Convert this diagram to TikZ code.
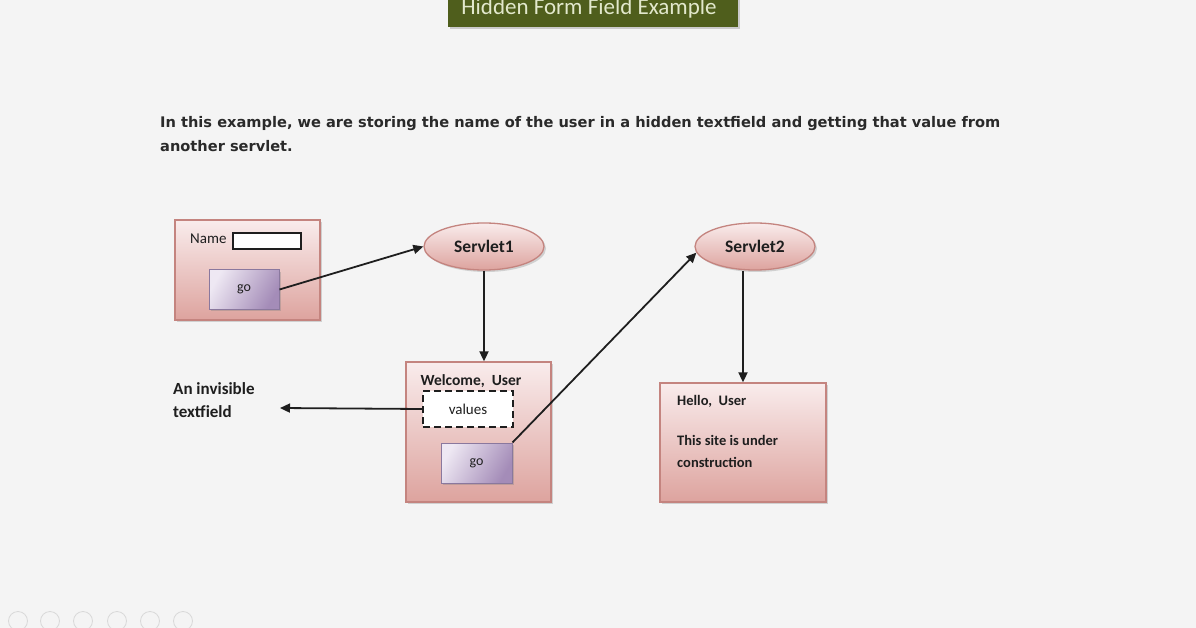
\documentclass[tikz,border=0pt]{standalone}
\usepackage{fontspec}
\setmainfont{Carlito}
\newfontfamily\parafont{DejaVu Sans}
\usetikzlibrary{arrows.meta,shapes.geometric,shadows,calc}
\definecolor{bgc}{HTML}{F4F4F4}
\definecolor{olive}{HTML}{4F5E1C}
\definecolor{titletext}{HTML}{E2E8CC}
\definecolor{pinktop}{HTML}{F9ECEC}
\definecolor{pinkbot}{HTML}{DDA39E}
\definecolor{pinkline}{HTML}{C4847F}
\definecolor{purtop}{HTML}{EEE8F3}
\definecolor{purbot}{HTML}{A48CB8}
\definecolor{purline}{HTML}{8A789E}
\definecolor{ink}{HTML}{1E1E1E}
\definecolor{paraink}{HTML}{2A2A2A}
\tikzset{
  pagebox/.style={draw=pinkline, line width=1.3pt, top color=pinktop, bottom color=pinkbot, shading angle=0,
    drop shadow={opacity=0.3, shadow xshift=2pt, shadow yshift=-2pt}},
  servlet/.style={ellipse, draw=pinkline, line width=1.3pt, top color=pinktop, bottom color=pinkbot,
    minimum width=120pt, minimum height=47pt, inner sep=0pt, font=\fontsize{17.5}{20}\selectfont\bfseries, text=ink,
    drop shadow={opacity=0.3, shadow xshift=2pt, shadow yshift=-2pt}},
  gobtn/.style={draw=purline, line width=1pt, shading=axis, left color=purtop, right color=purbot, shading angle=60,
    inner sep=0pt, font=\fontsize{14}{16}\selectfont, text=ink,
    drop shadow={opacity=0.35, shadow xshift=2pt, shadow yshift=-2pt}},
  conn/.style={draw=ink, line width=1.8pt, -{Triangle[length=10pt,width=9pt]}},
  lbl/.style={inner sep=0pt, text=ink, font=\fontsize{15.5}{18}\selectfont\bfseries},
  ctrl/.style={circle, draw=black!15, line width=0.8pt, minimum size=19pt, inner sep=0pt}
}
\begin{document}
\begin{tikzpicture}[x=1pt,y=-1pt]
\useasboundingbox (0,0) rectangle (1196,628);
\fill[bgc] (0,0) rectangle (1196,628);
% title bar
\node[fill=olive, minimum width=290pt, minimum height=30pt, inner sep=0pt,
  drop shadow={opacity=0.35, shadow xshift=2pt, shadow yshift=-2pt}] (title) at (593,12) {};
\node[text=titletext, font=\fontsize{23}{25}\selectfont, anchor=base] (titletxt) at (589,15) {Hidden Form Field Example};
% paragraph
\node[anchor=base west, inner sep=0pt, text=paraink, font=\parafont\bfseries\fontsize{14.6}{17}\selectfont] (p1) at (160,128)
  {In this example, we are storing the name of the user in a hidden textfield and getting that value from};
\node[anchor=base west, inner sep=0pt, text=paraink, font=\parafont\bfseries\fontsize{14.6}{17}\selectfont] (p2) at (160,152)
  {another servlet.};
% box 1
\node[pagebox, minimum width=145pt, minimum height=100pt] (b1) at (247.5,270) {};
\node[anchor=base west, inner sep=0pt, text=ink, font=\fontsize{15}{17}\selectfont] (name) at (190,244) {Name};
\node[draw=ink, fill=white, line width=1.3pt, minimum width=68pt, minimum height=16pt, inner sep=0pt] (tf) at (267,241) {};
\node[gobtn, minimum width=70pt, minimum height=39pt] (go1) at (244,289.5) {go};
% servlet 1
\node[servlet] (s1) at (484,246.5) {Servlet1};
% box 2
\node[pagebox, minimum width=145pt, minimum height=140pt] (b2) at (478.5,432) {};
\node[lbl, anchor=base] (wel) at (471,385) {Welcome,\ \ User};
\node[draw=ink, fill=white, dashed, dash pattern=on 7pt off 4pt, line width=2pt, minimum width=90pt, minimum height=36pt,
  inner sep=0pt, text=ink, font=\fontsize{15}{17}\selectfont] (val) at (468,409) {values};
\node[gobtn, minimum width=71pt, minimum height=40pt] (go2) at (476.5,463) {go};
% invisible label
\node[lbl, anchor=north west, align=left, font=\fontsize{17}{23}\selectfont\bfseries] (inv) at (173,382) {An invisible\\textfield};
\coordinate (invend) at (280,408);
% servlet 2
\node[servlet] (s2) at (755,246.5) {Servlet2};
% box 3
\node[pagebox, minimum width=166pt, minimum height=119pt] (b3) at (743,442.5) {};
\node[lbl, anchor=north west, align=left, font=\fontsize{14.5}{22}\selectfont\bfseries] (hello) at (677,395)
  {Hello,\ \ User\\[18pt]This site is under\\construction};
% connectors
\draw[conn] (go1.east) -- (s1.west);
\draw[conn] (s1.south) -- (s1.south |- b2.north);
\draw[conn] (val.west) -- (invend);
\draw[conn] (go2.north east) -- (s2.186);
\draw[conn] (b3.north |- s2.south) -- (b3.north);
% slide controls
\foreach \i/\x in {1/18,2/50,3/83,4/117,5/150,6/183}{
  \node[ctrl] (c\i) at (\x,621) {};
}
\end{tikzpicture}
\end{document}
